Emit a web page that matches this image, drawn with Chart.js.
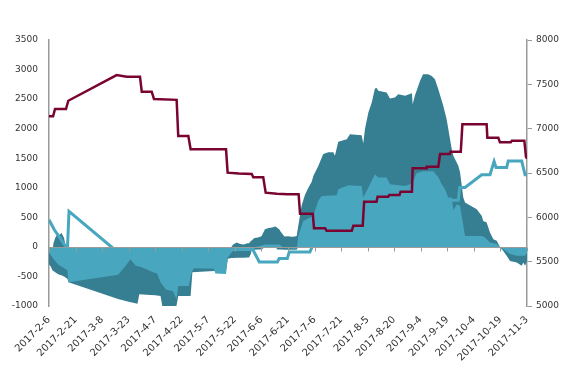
<!DOCTYPE html>
<html>
<head>
<meta charset="utf-8">
<script src="https://cdn.jsdelivr.net/npm/chart.js@4.4.1/dist/chart.umd.min.js"></script>
<style>
  html, body { margin: 0; padding: 0; background: #fff; }
  #wrap { width: 569px; height: 374px; }
</style>
</head>
<body>
<div id="wrap"><canvas id="chart" width="569" height="374"></canvas></div>
<script>
// x = days since 2017-2-6
var xTickLabels = ["2017-2-6", "2017-2-21", "2017-3-8", "2017-3-23", "2017-4-7", "2017-4-22",
  "2017-5-7", "2017-5-22", "2017-6-6", "2017-6-21", "2017-7-6", "2017-7-21", "2017-8-5",
  "2017-8-20", "2017-9-4", "2017-9-19", "2017-10-4", "2017-10-19", "2017-11-3"];

// dark band (left axis): filled between darkLow and darkHigh
var darkDays = [0, 1, 2, 2.5, 3.5, 5, 6, 7, 8.5, 9.5, 10.4, 11,
  39, 45, 50, 51, 55, 60, 63, 64, 72, 73, 80, 81, 93, 100, 101, 103,
  104, 106, 108, 110, 112, 113, 114, 114.5, 116, 118, 120, 122, 124, 126, 128, 129, 130, 131, 133, 135, 137, 139, 139.9, 140.8,
  142.7, 144.6, 146.5, 148.4, 149.3, 152.1, 154.9, 157.8, 160.6, 161.5, 163.4, 168.2, 170, 176.6, 177.5,
  178.5, 180.4, 182.3, 184.1, 185.1, 186, 190.7, 192.6, 195.4, 197.3, 201.1, 205, 205.4, 206.7, 209.6,
  211.3, 214.1, 216.2, 218, 219.9, 222.7, 224.6, 227.5, 228.4, 231.2, 232.2, 234, 235, 241.6, 244.4,
  245.3, 247.2, 249.1, 251, 252.9, 254.7,
  256.6, 258.5, 260.4, 264.2, 267, 267.9, 268.9, 270];
var darkLow = [-300, -330, -400, -410, -430, -460, -470, -480, -500, -520, -540, -600,
  -880, -930, -960, -800, -810, -820, -830, -1000, -1000, -830, -830, -430, -410, -400, -200, -190,
  -190, -185, -185, -185, -180, -180, -120, -50, -50, -45, -45, 0, 0, 0, 0, -45, -45, -45, -50, -50, -50, -50, -50, 0,
  0, 0, 0, 0, 0, 0, 0, 0, 0, 0, 0, 0, 0, 0, 0,
  0, 0, 0, 0, 0, 0, 0, 0, 0, 0, 0, 0, 0, 0, 0,
  0, 0, 0, 0, 0, 0, 0, 0, 0, 0, 0, 0, 0, 0, 0,
  0, 0, 0, 0, 0, 0,
  -68, -152, -237, -265, -321, -265, -321, -237];
var darkHigh = [-100, -100, -80, 60, 150, 230, 200, 240, 150, 0, 0, 0,
  0, 0, 0, 0, 0, 0, 0, 0, 0, 0, 0, 0, 0, 0, 0, 0,
  40, 75, 50, 40, 60, 60, 100, 110, 150, 160, 180, 300, 320, 330, 345, 320, 300, 250, 176, 180, 170, 176, 186, 355,
  700, 880, 1000, 1100, 1200, 1370, 1570, 1600, 1600, 1540, 1780, 1820, 1907, 1890, 1750,
  2000, 2274, 2443, 2680, 2690, 2640, 2612, 2511, 2528, 2584, 2555, 2600, 2415, 2560, 2809,
  2922, 2922, 2893, 2838, 2668, 2386, 2161, 1653, 1540, 1371, 1259, 836, 751, 638, 525,
  440, 413, 244, 130, 102, 0,
  0, 0, 0, 0, 0, 0, 0, 0];

// light area (left axis)
var lightDays = [0, 2, 4, 6, 8, 10.4, 11,
  39, 43, 46, 49, 52, 55, 58, 61, 63, 66, 70, 72, 73, 79,
  80, 81, 82, 93, 94, 100, 101, 103, 104, 115, 117, 122, 130, 133, 139.9,
  140.8, 142.7, 143.6, 149.3, 152.1, 154, 162.5, 163.4, 169.1, 176.6, 177.5, 179.5, 184.1, 186,
  190.7, 192.6, 201.1, 203.9, 205.8, 207.7, 211.3, 217.1, 219.9, 221.8, 223.7, 225.5, 227.5,
  228.4, 230.3, 232.2, 233.1, 235, 244.4, 246.3, 249.1, 252.9, 254.7, 256.6, 260.4, 264.2,
  268.9, 270];
var lightVals = [-100, -180, -260, -320, -350, -400, -600,
  -470, -330, -210, -320, -340, -380, -420, -450, -600, -720, -750, -880, -660, -660,
  -500, -400, -360, -370, -450, -460, -180, -100, -70, -70, 0, 40, 40, -20, -30,
  186, 355, 440, 525, 780, 863, 875, 977, 1044, 1032, 836, 948, 1230, 1174,
  1174, 1061, 1032, 1061, 1117, 1250, 1280, 1280, 1180, 1061, 976, 836, 836,
  620, 720, 694, 525, 186, 186, 160, 74, 50, 0, -40, -120, -150,
  -150, -100];

// light line (left axis)
var lineDays = [0, 3, 6, 10.4, 11.3, 38.5, 100, 115, 115.4, 118.8, 129, 130, 134.6, 135.7, 147.4,
  150, 160, 180, 200, 220, 226.5, 231.2, 232, 235, 244.4, 249.1, 251.4, 252.5, 258.5, 259.4,
  267, 268.9, 270];
var lineVals = [460, 290, 160, -40, 600, -80, -50, -40, -60, -254, -254, -196, -196, -85, -85,
  100, 300, 550, 700, 770, 790, 790, 1005, 1005, 1220, 1220, 1445, 1343, 1343, 1455,
  1455, 1220, 1220];

// maroon step line (right axis)
var priceDays = [0, 2.3, 3.4, 9.6, 10.9, 38.2, 43.9, 51.4, 52.4, 58, 59.3, 72.1, 73, 78.7, 80,
  100, 100.9, 107.3, 114.5, 115.4, 121, 122.4, 128.7, 135, 141, 141.8, 149, 149.7, 156, 156.8,
  171, 171.9, 177.2, 178, 185, 185.6, 191.6, 192.2, 198, 198.6, 205, 205.4, 213, 213.4, 219.9,
  220.9, 226.4, 226.8, 232.6, 233.5, 247.2, 247.6, 253.8, 254.7, 260.8, 261.4, 268.5, 269.4, 270];
var priceVals = [7140, 7140, 7222, 7222, 7315, 7605, 7586, 7586, 7417, 7417, 7335, 7325, 6917, 6917, 6767,
  6767, 6504, 6495, 6489, 6451, 6451, 6278, 6266, 6260, 6260, 6040, 6040, 5876, 5876, 5848,
  5848, 5904, 5904, 6176, 6176, 6233, 6233, 6252, 6252, 6289, 6289, 6553, 6553, 6571, 6571,
  6714, 6714, 6740, 6740, 7049, 7049, 6898, 6898, 6846, 6846, 6864, 6864, 6684, 6660];

function pts(days, vals) {
  return days.map(function (d, i) { return { x: d, y: vals[i] }; });
}

// zero line with tick marks, drawn over the areas
var zeroAxis = {
  id: "zeroAxis",
  afterDatasetsDraw: function (chart) {
    var ctx = chart.ctx, area = chart.chartArea;
    var xs = chart.scales.x, ys = chart.scales.y;
    var y0 = Math.round(ys.getPixelForValue(0)) + 0.5;
    ctx.save();
    ctx.strokeStyle = "#9a9a9a";
    ctx.lineWidth = 1;
    ctx.beginPath();
    ctx.moveTo(area.left, y0);
    ctx.lineTo(area.right, y0);
    xs.ticks.forEach(function (t) {
      var px = Math.round(xs.getPixelForValue(t.value)) + 0.5;
      ctx.moveTo(px, y0);
      ctx.lineTo(px, y0 + 4);
    });
    ctx.stroke();
    ctx.restore();
  }
};

Chart.defaults.font.family = "DejaVu Sans";
Chart.defaults.font.size = 9;
Chart.defaults.color = "#333";

var plain = function (v) { return String(v); };

var ctx = document.getElementById("chart").getContext("2d");
var myChart = new Chart(ctx, {
  type: "line",
  data: {
    datasets: [
      {
        data: pts(priceDays, priceVals),
        yAxisID: "y2",
        borderColor: "#7a0431",
        borderWidth: 2.5,
        pointRadius: 0,
        fill: false,
      },
      {
        data: pts(lineDays, lineVals),
        yAxisID: "y",
        borderColor: "#48a6bf",
        borderWidth: 3,
        pointRadius: 0,
        fill: false,
      },
      {
        data: pts(lightDays, lightVals),
        yAxisID: "y",
        borderWidth: 0,
        pointRadius: 0,
        backgroundColor: "#48a6bf",
        fill: "origin",
      },
      {
        data: pts(darkDays, darkHigh),
        yAxisID: "y",
        borderWidth: 0,
        pointRadius: 0,
        backgroundColor: "#367e92",
        fill: "+1",
      },
      {
        data: pts(darkDays, darkLow),
        yAxisID: "y",
        borderWidth: 0,
        pointRadius: 0,
        backgroundColor: "#367e92",
        fill: false,
      }
    ],
  },
  options: {
    responsive: false,
    animation: false,
    layout: { padding: { top: 40 } },
    plugins: { legend: { display: false }, tooltip: { enabled: false } },
    scales: {
      x: {
        type: "linear",
        min: 0,
        max: 270,
        grid: { display: false, drawTicks: false },
        border: { display: false },
        ticks: {
          stepSize: 15,
          autoSkip: false,
          maxRotation: 45,
          minRotation: 45,
          padding: 8,
          font: { size: 10 },
          callback: function (v) { return xTickLabels[Math.round(v / 15)]; },
        },
        afterFit: function (s) { s.height = 68; },
      },
      y: {
        position: "left",
        min: -1000,
        max: 3500,
        grid: { display: false, drawTicks: false },
        border: { display: true, color: "#9a9a9a", width: 1.5 },
        ticks: { stepSize: 500, padding: 11, callback: plain },
        afterFit: function (s) { s.width = 49; },
      },
      y2: {
        position: "right",
        min: 5000,
        max: 8000,
        grid: { drawOnChartArea: false, drawTicks: true, tickLength: 5, color: "#9a9a9a" },
        border: { display: true, color: "#9a9a9a", width: 1.5 },
        ticks: { stepSize: 500, padding: 4, callback: plain },
        afterFit: function (s) { s.width = 42; },
      },
    },
  },
  plugins: [zeroAxis],
});
</script>
</body>
</html>
